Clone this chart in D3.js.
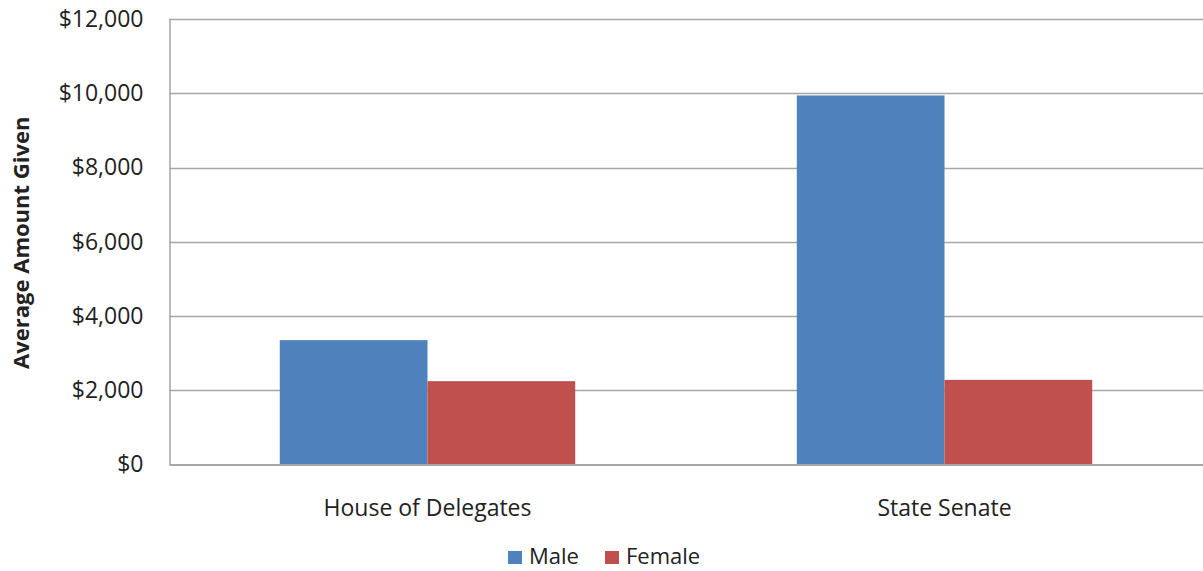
<!DOCTYPE html>
<html>
<head>
<meta charset="utf-8">
<script src="https://cdn.jsdelivr.net/npm/d3@7"></script>
<style>
  body { margin: 0; background: #fff; }
  text { font-family: "Open Sans", Lato, sans-serif; fill: #222; }
</style>
</head>
<body>
<div id="chart"></div>
<script>
var categories = ["House of Delegates", "State Senate"];
var seriesNames = ["Male", "Female"];
var maleValues = [3350, 9940];
var femaleValues = [2245, 2280];
var yTicks = [0, 2000, 4000, 6000, 8000, 10000, 12000];
var colors = ["#4f81bd", "#c0504d"];

var width = 1203, height = 571;
var margin = {top: 19, right: 0, bottom: 107, left: 169};

var svg = d3.select("#chart")
            .append("svg")
            .attr("width", width)
            .attr("height", height);

var x0 = d3.scaleBand()
           .domain(categories)
           .range([margin.left, width - margin.right])
           .paddingInner(0)
           .paddingOuter(0);

var x1 = d3.scaleBand()
           .domain(seriesNames)
           .range([0, x0.bandwidth()])
           .paddingInner(0)
           .paddingOuter(0.75);

var y = d3.scaleLinear()
          .domain([0, 12000])
          .range([height - margin.bottom + 0.5, margin.top]);

// gridlines
svg.append("g")
   .selectAll("line")
   .data(yTicks.slice(1))
   .enter().append("line")
   .attr("x1", margin.left)
   .attr("x2", width)
   .attr("y1", function(d){ return Math.round(y(d)) + 0.5; })
   .attr("y2", function(d){ return Math.round(y(d)) + 0.5; })
   .attr("stroke", "#a6a6a6")
   .attr("stroke-width", 1.3);

// bars
var groups = svg.append("g")
   .selectAll("g")
   .data(categories)
   .enter().append("g")
   .attr("transform", function(d){ return "translate(" + x0(d) + ",0)"; });

groups.selectAll("rect")
   .data(function(d, i){
       return [{s: "Male", v: maleValues[i]}, {s: "Female", v: femaleValues[i]}];
   })
   .enter().append("rect")
   .attr("x", function(d){ return x1(d.s); })
   .attr("width", x1.bandwidth())
   .attr("y", function(d){ return y(d.v); })
   .attr("height", function(d){ return y(0) - y(d.v); })
   .attr("fill", function(d, i){ return colors[i]; });

// axes
var yAxis = d3.axisLeft(y)
              .tickValues(yTicks)
              .tickSize(0)
              .tickPadding(26)
              .tickFormat(function(d){ return "$" + d3.format(",")(d); });

var gy = svg.append("g")
   .attr("transform", "translate(" + (margin.left + 0.5) + ",0)")
   .call(yAxis);
gy.select(".domain").attr("stroke", "#a6a6a6").attr("stroke-width", 1.5);
gy.selectAll("text").style("font-size", "23px").attr("fill", "#222");

var xAxis = d3.axisBottom(x0).tickSize(0).tickPadding(35);
var gx = svg.append("g")
   .attr("transform", "translate(0," + y(0) + ")")
   .call(xAxis);
gx.select(".domain").attr("stroke", "#a6a6a6").attr("stroke-width", 2);
gx.selectAll("text").style("font-size", "23px").attr("fill", "#222");

// y title
svg.append("text")
   .attr("transform", "translate(29," + ((margin.top + y(0)) / 2 + 1) + ") rotate(-90)")
   .attr("text-anchor", "middle")
   .style("font-size", "22px")
   .style("font-weight", "bold")
   .text("Average Amount Given");

// legend
var legendX = [508, 605];
var legend = svg.append("g")
   .selectAll("g")
   .data(seriesNames)
   .enter().append("g")
   .attr("transform", function(d, i){ return "translate(" + legendX[i] + ",553)"; });

legend.append("rect")
   .attr("y", -2)
   .attr("width", 14)
   .attr("height", 13)
   .attr("fill", function(d, i){ return colors[i]; });

legend.append("text")
   .attr("x", 21)
   .attr("y", 11)
   .style("font-size", "22px")
   .text(function(d){ return d; });
</script>
</body>
</html>
